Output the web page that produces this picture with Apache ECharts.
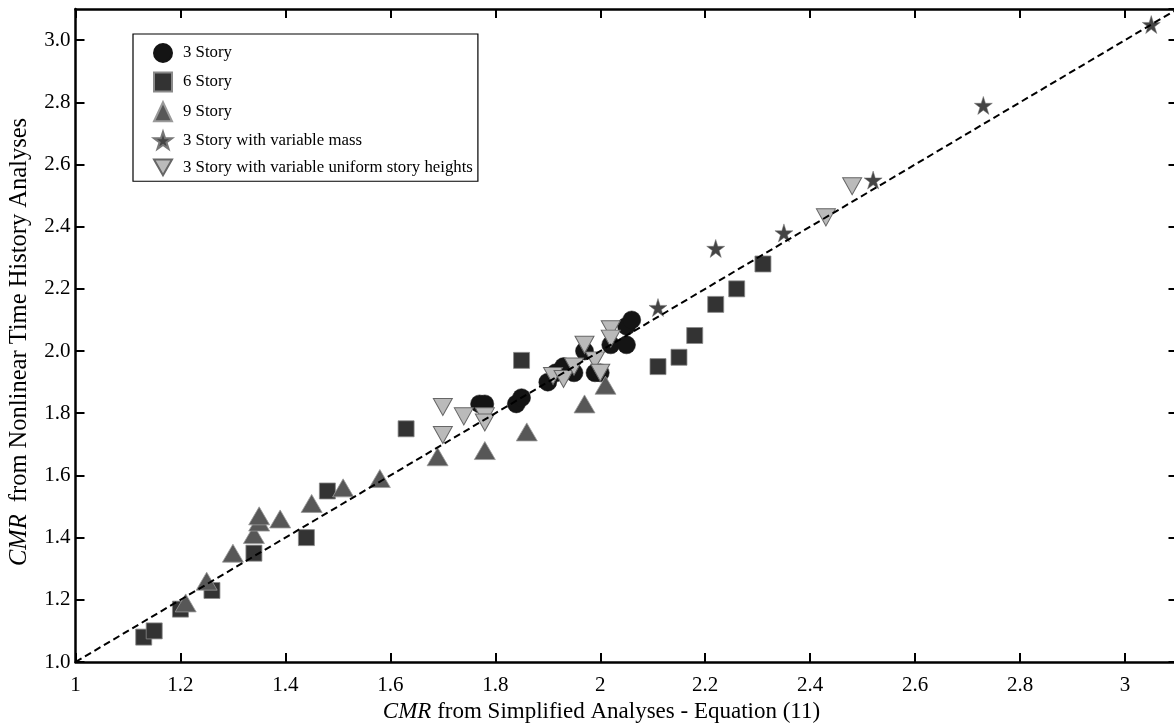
<!DOCTYPE html>
<html>
<head>
<meta charset="utf-8">
<script src="https://cdn.jsdelivr.net/npm/echarts@6/dist/echarts.min.js"></script>
<style>html,body{margin:0;padding:0;background:#fff;}#c{width:1174px;height:724px;}</style>
</head>
<body>
<div id="c"></div>
<script>
// Data
const story3X = [1.77,1.78,1.84,1.85,1.90,1.915,1.93,1.95,1.97,1.99,2.00,2.02,2.05,2.05,2.06];
const story3Y = [1.83,1.83,1.83,1.85,1.90,1.93,1.95,1.93,2.00,1.93,1.93,2.02,2.02,2.08,2.10];
const story6X = [1.13,1.15,1.20,1.26,1.34,1.44,1.48,1.63,1.85,2.11,2.15,2.18,2.22,2.26,2.31];
const story6Y = [1.08,1.10,1.17,1.23,1.35,1.40,1.55,1.75,1.97,1.95,1.98,2.05,2.15,2.20,2.28];
const story9X = [1.21,1.25,1.30,1.34,1.35,1.35,1.39,1.45,1.51,1.58,1.69,1.78,1.86,1.97,2.01];
const story9Y = [1.19,1.26,1.35,1.41,1.45,1.47,1.46,1.51,1.56,1.59,1.66,1.68,1.74,1.83,1.89];
const massX = [2.11,2.22,2.35,2.52,2.73,3.05];
const massY = [2.14,2.33,2.38,2.55,2.79,3.05];
const heightX = [1.70,1.70,1.74,1.78,1.78,1.91,1.93,1.95,1.97,1.99,2.00,2.02,2.02,2.43,2.48];
const heightY = [1.82,1.73,1.79,1.79,1.77,1.92,1.91,1.95,2.02,1.97,1.93,2.07,2.04,2.43,2.53];
const seriesNames = ['3 Story','6 Story','9 Story','3 Story with variable mass','3 Story with variable uniform story heights'];
const refLine = [[1,1],[3.1,3.1]];
const axisMin = 1.0, axisMax = 3.1, axisStep = 0.2;

const zip = (xs, ys) => xs.map((x, i) => [x, ys[i]]);
const FONT = 'Liberation Serif';

const chart = echarts.init(document.getElementById('c'), null, {renderer: 'canvas'});

const baseAxis = {
  min: axisMin, max: axisMax, interval: axisStep,
  splitLine: {show: false},
  axisLine: {show: true, onZero: false, lineStyle: {color: '#000', width: 2.5}},
  axisTick: {show: true, inside: true, length: 9, lineStyle: {color: '#000', width: 2}},
};

chart.setOption({
  animation: false,
  backgroundColor: '#fff',
  textStyle: {fontFamily: FONT},
  grid: {left: 75.5, top: 9, width: 1102, height: 653, containLabel: false, outerBoundsMode: 'none'},
  legend: {
    orient: 'vertical',
    left: 133, top: 34,
    data: seriesNames,
    borderColor: '#000', borderWidth: 1.2,
    padding: [9, 5, 5, 20],
    itemGap: 8.6,
    itemWidth: 18, itemHeight: 19,
    textStyle: {fontFamily: FONT, fontSize: 16.8, color: '#000', padding: [0,0,0,6]},
  },
  xAxis: [
    Object.assign({}, baseAxis, {
      type: 'value', position: 'bottom',
      name: '{i|CMR} from Simplified Analyses - Equation (11)',
      nameLocation: 'middle', nameGap: 24,
      nameTextStyle: {fontFamily: FONT, fontSize: 23, color: '#000', padding: [0, 50, 0, 0],
        rich: {i: {fontFamily: FONT, fontSize: 23, fontStyle: 'italic', color: '#000'}}},
      axisLabel: {show: true, fontFamily: FONT, fontSize: 21, color: '#000', margin: 13, showMaxLabel: false},
    }),
    Object.assign({}, baseAxis, {
      type: 'value', position: 'top',
      axisLabel: {show: false},
    }),
  ],
  yAxis: [
    Object.assign({}, baseAxis, {
      type: 'value', position: 'left',
      name: '{i|CMR}  from Nonlinear Time History Analyses',
      nameLocation: 'middle', nameGap: 43, nameRotate: 90,
      nameTextStyle: {fontFamily: FONT, fontSize: 24.5, color: '#000', padding: [0, 13, 0, 0],
        rich: {i: {fontFamily: FONT, fontSize: 24.5, fontStyle: 'italic', color: '#000'}}},
      axisLabel: {show: true, fontFamily: FONT, fontSize: 21, color: '#000', margin: 5,
        showMaxLabel: false, formatter: v => v.toFixed(1)},
    }),
    Object.assign({}, baseAxis, {
      type: 'value', position: 'right',
      axisLabel: {show: false},
    }),
  ],
  series: [
    {name: seriesNames[0], type: 'scatter', data: zip(story3X, story3Y), symbol: 'circle', symbolSize: 18,
      itemStyle: {color: '#141414', borderColor: '#141414', borderWidth: 0.5, opacity: 1}, z: 2},
    {name: seriesNames[1], type: 'scatter', data: zip(story6X, story6Y), symbol: 'rect', symbolSize: 16,
      itemStyle: {color: '#333333', borderColor: '#8a8a8a', borderWidth: 0.8, opacity: 1}, z: 3},
    {name: seriesNames[2], type: 'scatter', data: zip(story9X, story9Y), symbol: 'triangle', symbolSize: [21, 18],
      itemStyle: {color: '#575757', borderColor: '#9a9a9a', borderWidth: 0.8, opacity: 1}, z: 4},
    {name: seriesNames[3], type: 'scatter', data: zip(massX, massY), symbol: 'path://M0,-1 L0.2245,-0.309 L0.951,-0.309 L0.363,0.118 L0.588,0.809 L0,0.382 L-0.588,0.809 L-0.363,0.118 L-0.951,-0.309 L-0.2245,-0.309 Z', symbolSize: 18,
      itemStyle: {color: '#444444', borderColor: '#777', borderWidth: 0.5, opacity: 1}, z: 5},
    {name: seriesNames[4], type: 'scatter', data: zip(heightX, heightY), symbol: 'path://M0,0 L2,0 L1,1.75 Z', symbolSize: [19, 17],
      itemStyle: {color: '#bababa', borderColor: '#666666', borderWidth: 1, opacity: 1}, z: 6},
    {name: 'ref', type: 'line', data: refLine, showSymbol: false, symbol: 'none', silent: true,
      lineStyle: {color: '#000', width: 2, type: [7, 4]}, z: 10},
  ],
});
</script>
</body>
</html>
